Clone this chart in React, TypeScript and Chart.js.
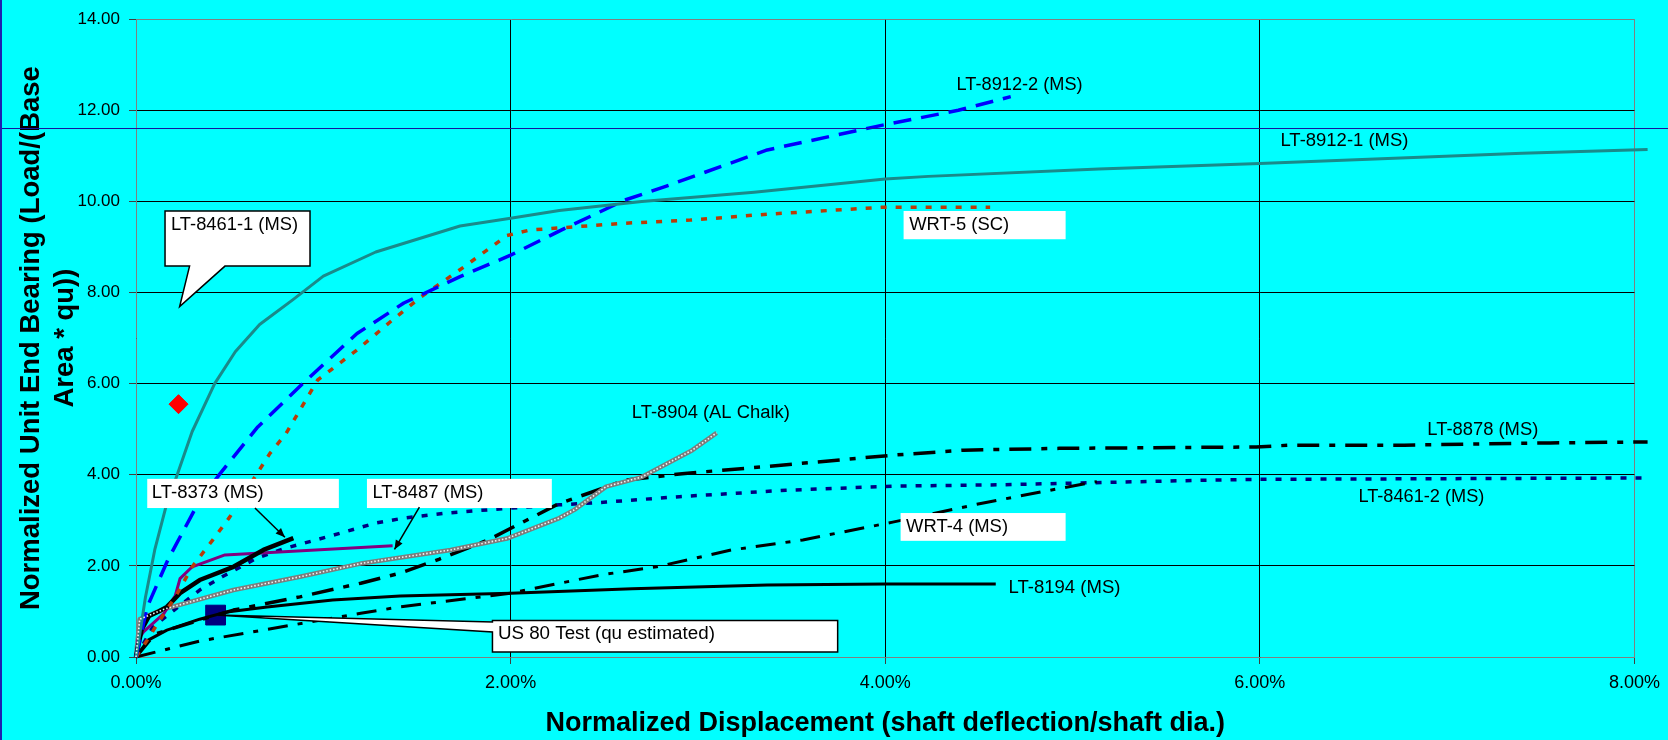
import React, { useEffect, useRef } from "react";
import { Chart, registerables } from "chart.js";

Chart.register(...registerables);

// ---------- axis ticks ----------
const xTickValues = [0, 2, 4, 6, 8];
const yTickValues = [0, 2, 4, 6, 8, 10, 12, 14];

// ---------- series (x = % displacement, y = normalized bearing) ----------
const lt84611X = [0, 0.02, 0.05, 0.1, 0.16, 0.22, 0.3, 0.42, 0.53, 0.66, 0.84, 1.0, 1.28, 1.73, 2.0, 2.26, 2.7, 3.3, 4.0, 4.23, 5.14, 6.0, 7.4, 8.07];
const lt84611Y = [0, 0.5, 1.3, 2.35, 3.3, 4.0, 4.95, 6.0, 6.7, 7.3, 7.85, 8.36, 8.89, 9.46, 9.63, 9.8, 10.0, 10.2, 10.49, 10.55, 10.71, 10.83, 11.06, 11.14];

const lt89122X = [0, 0.06, 0.17, 0.34, 0.45, 0.65, 0.89, 1.18, 1.43, 1.73, 2.0, 2.27, 2.61, 2.82, 3.37, 3.98, 4.39, 4.67];
const lt89122Y = [0, 1.1, 2.13, 3.44, 4.03, 5.05, 6.0, 7.1, 7.77, 8.35, 8.82, 9.37, 10.03, 10.32, 11.13, 11.67, 12.0, 12.3];

const wrt5X = [0, 0.06, 0.11, 0.21, 0.3, 0.41, 0.5, 0.59, 0.715, 0.8, 0.97, 1.18, 1.37, 1.52, 1.75, 1.98, 2.1, 2.6, 2.96, 3.37, 3.98, 4.56];
const wrt5Y = [0, 0.37, 0.7, 1.32, 1.98, 2.57, 3.07, 3.66, 4.47, 4.9, 6.08, 6.74, 7.4, 7.9, 8.56, 9.25, 9.37, 9.52, 9.59, 9.72, 9.87, 9.87];

const lt8373X = [0, 0.03, 0.07, 0.12, 0.165, 0.235, 0.34, 0.52, 0.68, 0.84];
const lt8373Y = [0, 0.6, 0.9, 1.0, 1.1, 1.4, 1.69, 1.98, 2.35, 2.61];

const lt8487X = [0, 0.01, 0.04, 0.15, 0.21, 0.235, 0.3, 0.475, 1.37];
const lt8487Y = [0, 0.37, 0.55, 0.96, 1.35, 1.72, 1.98, 2.24, 2.44];

const lt8904X = [0, 0.02, 0.15, 0.52, 0.875, 1.21, 1.68, 1.98, 2.26, 2.34, 2.51, 2.7, 2.97, 3.1];
const lt8904Y = [0, 0.83, 1.05, 1.47, 1.76, 2.06, 2.35, 2.6, 3.05, 3.23, 3.74, 3.95, 4.54, 4.92];

const lt8878X = [0, 0.1, 0.34, 0.52, 0.875, 1.2, 1.41, 1.62, 1.88, 2.26, 2.42, 2.61, 2.93, 3.28, 3.85, 4.04, 4.42, 4.93, 5.98, 6.16, 6.77, 7.55, 8.07];
const lt8878Y = [0, 0.5, 0.81, 1.03, 1.32, 1.62, 1.84, 2.15, 2.57, 3.37, 3.6, 3.88, 4.03, 4.15, 4.36, 4.43, 4.54, 4.58, 4.61, 4.65, 4.65, 4.7, 4.72];

const wrt4X = [0, 0.34, 0.62, 1.2, 1.41, 2.0, 2.48, 2.78, 3.18, 3.56, 4.04, 4.51, 4.93, 5.13];
const wrt4Y = [0, 0.35, 0.55, 0.96, 1.1, 1.4, 1.8, 1.98, 2.35, 2.57, 2.96, 3.37, 3.7, 3.85];

const lt84612X = [0, 0.09, 0.25, 0.34, 0.46, 0.645, 0.8, 1.05, 1.28, 1.43, 1.66, 1.94, 2.26, 2.51, 2.9, 3.47, 4.04, 4.61, 5.7, 6.0, 8.07];
const lt84612Y = [0, 0.66, 1.18, 1.47, 1.76, 2.17, 2.39, 2.67, 2.94, 3.05, 3.16, 3.25, 3.34, 3.4, 3.52, 3.66, 3.75, 3.78, 3.88, 3.9, 3.93];

const lt8194X = [0, 0.065, 0.165, 0.34, 0.485, 0.7, 1.05, 1.41, 2.0, 2.65, 3.37, 4.0, 4.59];
const lt8194Y = [0, 0.37, 0.59, 0.83, 0.99, 1.1, 1.25, 1.34, 1.4, 1.5, 1.58, 1.6, 1.6];

const us80X = [0.425];
const us80Y = [0.92];

const redPointX = [0.227];
const redPointY = [5.55];

const refLineY = 11.61;

// ---------- texts ----------
const xTitle = "Normalized Displacement (shaft deflection/shaft dia.)";
const yTitle = ["Normalized Unit End Bearing (Load/(Base", "Area * qu))"];
const lblLT84611 = "LT-8461-1 (MS)";
const lblLT89122 = "LT-8912-2 (MS)";
const lblLT89121 = "LT-8912-1 (MS)";
const lblWRT5 = "WRT-5 (SC)";
const lblLT8904 = "LT-8904 (AL Chalk)";
const lblLT8878 = "LT-8878 (MS)";
const lblLT84612 = "LT-8461-2 (MS)";
const lblWRT4 = "WRT-4 (MS)";
const lblLT8194 = "LT-8194 (MS)";
const lblLT8373 = "LT-8373 (MS)";
const lblLT8487 = "LT-8487 (MS)";
const lblUS80 = "US 80 Test (qu estimated)";

const FONT = 'Arial, "Liberation Sans", sans-serif';

const pts = (xs: number[], ys: number[]) => xs.map((x, i) => ({ x, y: ys[i] }));

function makeLine(label: string, xs: number[], ys: number[], color: any, width: number, dash: number[] = []) {
  return {
    label,
    data: pts(xs, ys),
    showLine: true,
    borderColor: color,
    backgroundColor: color,
    borderWidth: width,
    borderDash: dash,
    borderCapStyle: "butt",
    borderJoinStyle: "round",
    pointRadius: 0,
    pointHoverRadius: 0,
    tension: 0,
    clip: false,
  };
}

const bgPlugin = {
  id: "bg",
  beforeDraw(chart: any) {
    const { ctx, width, height } = chart;
    ctx.save();
    ctx.fillStyle = "#00FFFF";
    ctx.fillRect(0, 0, width, height);
    ctx.restore();
  },
};

const annotationPlugin = {
  id: "annot",
  afterDatasetsDraw(chart: any) {
    const { ctx } = chart;
    // textured (gray / white) look for LT-8904
    const meta = chart.getDatasetMeta(5);
    if (meta && meta.data.length) {
      ctx.save();
      ctx.strokeStyle = "#f4f4f4";
      ctx.lineWidth = 1.6;
      ctx.setLineDash([1.5, 2]);
      ctx.beginPath();
      meta.data.forEach((p: any, i: number) => (i ? ctx.lineTo(p.x, p.y) : ctx.moveTo(p.x, p.y)));
      ctx.stroke();
      ctx.restore();
    }
  },
  afterDraw(chart: any) {
    const { ctx, width } = chart;
    const xs = chart.scales.x;
    const ys = chart.scales.y;
    const X = (v: number) => xs.getPixelForValue(v);
    const Y = (v: number) => ys.getPixelForValue(v);
    ctx.save();

    // reference blue line across whole picture and left border
    ctx.strokeStyle = "#1414A0";
    ctx.lineWidth = 1;
    ctx.beginPath();
    const ry = Math.round(Y(refLineY)) + 0.5;
    ctx.moveTo(0, ry);
    ctx.lineTo(width, ry);
    ctx.stroke();
    ctx.lineWidth = 2;
    ctx.strokeStyle = "#2020B0";
    ctx.beginPath();
    ctx.moveTo(1, 0);
    ctx.lineTo(1, chart.height);
    ctx.stroke();

    ctx.font = `18px ${FONT}`;
    ctx.textBaseline = "middle";
    ctx.textAlign = "left";

    // text fitted horizontally to a given pixel width
    const text = (s: string, x: number, y: number, w: number) => {
      ctx.save();
      ctx.fillStyle = "#000";
      ctx.font = `18px ${FONT}`;
      const mw = ctx.measureText(s).width;
      ctx.translate(X(x), Y(y));
      ctx.scale(w / mw, 1);
      ctx.fillText(s, 0, 0);
      ctx.restore();
    };
    const whiteBox = (x1: number, y1: number, x2: number, y2: number) => {
      ctx.fillStyle = "#fff";
      ctx.fillRect(X(x1), Y(y1), X(x2) - X(x1), Y(y2) - Y(y1));
    };

    // LT-8461-1 callout
    ctx.beginPath();
    ctx.moveTo(X(0.155), Y(9.79));
    ctx.lineTo(X(0.929), Y(9.79));
    ctx.lineTo(X(0.929), Y(8.58));
    ctx.lineTo(X(0.475), Y(8.58));
    ctx.lineTo(X(0.233), Y(7.69));
    ctx.lineTo(X(0.286), Y(8.58));
    ctx.lineTo(X(0.155), Y(8.58));
    ctx.closePath();
    ctx.fillStyle = "#fff";
    ctx.fill();
    ctx.strokeStyle = "#000";
    ctx.lineWidth = 1.5;
    ctx.stroke();
    text(lblLT84611, 0.187, 9.48, 127);

    // US 80 callout
    ctx.beginPath();
    ctx.moveTo(X(1.903), Y(0.8));
    ctx.lineTo(X(3.746), Y(0.8));
    ctx.lineTo(X(3.746), Y(0.11));
    ctx.lineTo(X(1.903), Y(0.11));
    ctx.lineTo(X(1.903), Y(0.55));
    ctx.lineTo(X(us80X[0]), Y(us80Y[0]));
    ctx.lineTo(X(1.903), Y(0.77));
    ctx.closePath();
    ctx.fillStyle = "#fff";
    ctx.fill();
    ctx.strokeStyle = "#000";
    ctx.lineWidth = 1.5;
    ctx.stroke();
    text(lblUS80, 1.932, 0.5, 217);

    // white boxes
    whiteBox(4.098, 9.79, 4.963, 9.17);
    text(lblWRT5, 4.128, 9.48, 100);
    whiteBox(4.082, 3.16, 4.963, 2.55);
    text(lblWRT4, 4.111, 2.85, 102);
    whiteBox(0.06, 3.91, 1.083, 3.27);
    text(lblLT8373, 0.084, 3.6, 112);
    whiteBox(1.233, 3.91, 2.22, 3.27);
    text(lblLT8487, 1.262, 3.6, 111);

    // plain labels
    text(lblLT89122, 4.381, 12.55, 126);
    text(lblLT89121, 6.11, 11.32, 128);
    text(lblLT8904, 2.647, 5.35, 158);
    text(lblLT8878, 6.894, 4.98, 111);
    text(lblLT84612, 6.526, 3.51, 126);
    text(lblLT8194, 4.658, 1.51, 112);

    // arrows
    const arrow = (x1: number, y1: number, x2: number, y2: number) => {
      const ax = X(x1), ay = Y(y1), bx = X(x2), by = Y(y2);
      const ang = Math.atan2(by - ay, bx - ax);
      ctx.strokeStyle = "#000";
      ctx.fillStyle = "#000";
      ctx.lineWidth = 1.5;
      ctx.beginPath();
      ctx.moveTo(ax, ay);
      ctx.lineTo(bx, by);
      ctx.stroke();
      ctx.beginPath();
      ctx.moveTo(bx, by);
      ctx.lineTo(bx - 10 * Math.cos(ang - 0.4), by - 10 * Math.sin(ang - 0.4));
      ctx.lineTo(bx - 10 * Math.cos(ang + 0.4), by - 10 * Math.sin(ang + 0.4));
      ctx.closePath();
      ctx.fill();
    };
    arrow(0.635, 3.27, 0.795, 2.63);
    arrow(1.513, 3.29, 1.38, 2.36);

    ctx.restore();
  },
};

export default function App() {
  const ref = useRef<HTMLCanvasElement>(null);

  useEffect(() => {
    const canvas = ref.current;
    if (!canvas) return;

    const datasets: any[] = [
      makeLine("LT-8461-1 (MS)", lt84611X, lt84611Y, "#1A8A8A", 3),
      makeLine("LT-8912-2 (MS)", lt89122X, lt89122Y, "#0000FF", 3.5, [18, 10]),
      makeLine("WRT-5 (SC)", wrt5X, wrt5Y, "#B83C08", 3.5, [6, 9]),
      makeLine("LT-8373 (MS)", lt8373X, lt8373Y, "#000000", 4.5),
      makeLine("LT-8487 (MS)", lt8487X, lt8487Y, "#800080", 3),
      makeLine("LT-8904 (AL Chalk)", lt8904X, lt8904Y, "#7c7c7c", 4.5),
      makeLine("LT-8878 (MS)", lt8878X, lt8878Y, "#000000", 3.5, [22, 10, 6, 10]),
      makeLine("WRT-4 (MS)", wrt4X, wrt4Y, "#000000", 3, [20, 10, 5, 10]),
      makeLine("LT-8461-2 (MS)", lt84612X, lt84612Y, "#000080", 3.5, [6, 9]),
      makeLine("LT-8194 (MS)", lt8194X, lt8194Y, "#000000", 3),
      {
        label: "US 80 Test",
        data: pts(us80X, us80Y),
        showLine: false,
        pointStyle: "rect",
        pointRadius: 14,
        pointBackgroundColor: "#000080",
        pointBorderColor: "#000080",
        pointBorderWidth: 1,
        clip: false,
      },
      {
        label: "point",
        data: pts(redPointX, redPointY),
        showLine: false,
        pointStyle: "rectRot",
        pointRadius: 9.5,
        pointBackgroundColor: "#FF0000",
        pointBorderColor: "#FF0000",
        pointBorderWidth: 1,
        clip: false,
      },
    ];

    const chart = new Chart(canvas, {
      type: "scatter",
      data: { datasets },
      plugins: [bgPlugin, annotationPlugin],
      options: {
        animation: false,
        responsive: false,
        devicePixelRatio: 1,
        layout: { padding: { left: 0, top: 19, right: 33, bottom: 0 } },
        plugins: { legend: { display: false }, tooltip: { enabled: false } },
        events: [],
        scales: {
          x: {
            type: "linear",
            min: 0,
            max: 8,
            afterFit: (s: any) => {
              s.height = 83;
            },
            afterBuildTicks: (s: any) => {
              s.ticks = xTickValues.map((v) => ({ value: v }));
            },
            ticks: {
              padding: 8,
              color: "#000",
              font: { family: FONT, size: 18 },
              callback: (v: any) => Number(v).toFixed(2) + "%",
              maxRotation: 0,
            },
            grid: {
              color: (c: any) => (c.tick && c.tick.value === 8 ? "#808080" : "#000000"),
              lineWidth: 1,
              tickLength: 7,
              tickColor: "#404040",
            },
            border: { color: "#808080", width: 1 },
            title: {
              display: true,
              text: xTitle,
              color: "#000",
              font: { family: FONT, size: 27, weight: "bold", lineHeight: 1.2 },
              padding: { top: 0, bottom: 0 },
            },
          },
          y: {
            type: "linear",
            min: 0,
            max: 14,
            afterFit: (s: any) => {
              s.width = 136;
            },
            afterBuildTicks: (s: any) => {
              s.ticks = yTickValues.map((v) => ({ value: v }));
            },
            ticks: {
              padding: 9,
              color: "#000",
              font: { family: FONT, size: 17 },
              callback: (v: any) => Number(v).toFixed(2),
            },
            grid: {
              color: (c: any) => (c.tick && c.tick.value === 14 ? "#808080" : "#000000"),
              lineWidth: 1,
              tickLength: 7,
              tickColor: "#404040",
            },
            border: { color: "#808080", width: 1 },
            title: {
              display: true,
              text: yTitle,
              color: "#000",
              font: { family: FONT, size: 27.5, weight: "bold", lineHeight: 1.23 },
              padding: { top: 15, bottom: 0 },
            },
          },
        },
      } as any,
    });

    return () => chart.destroy();
  }, []);

  return (
    <div style={{ position: "fixed", left: 0, top: 0, width: 1668, height: 740 }}>
      <canvas ref={ref} width={1668} height={740} style={{ width: 1668, height: 740, display: "block" }} />
    </div>
  );
}
